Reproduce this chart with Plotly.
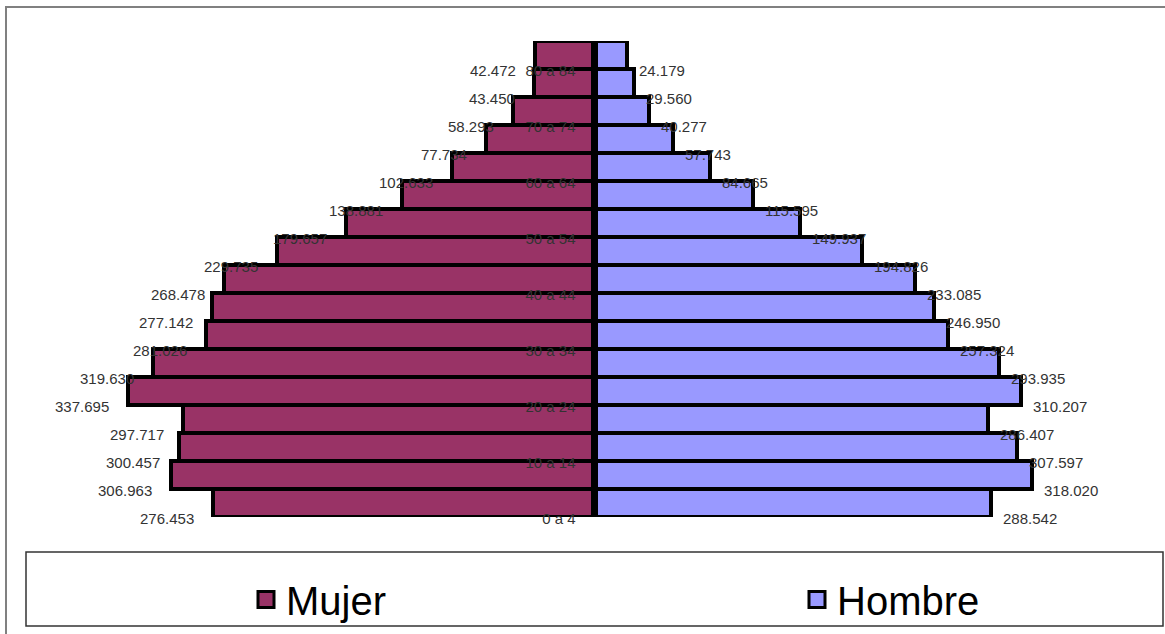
import plotly.graph_objects as go

# ---- data (thousands of people) ----
age_groups = ["0 a 4", "5 a 9", "10 a 14", "15 a 19", "20 a 24", "25 a 29", "30 a 34",
              "35 a 39", "40 a 44", "45 a 49", "50 a 54", "55 a 59", "60 a 64",
              "65 a 69", "70 a 74", "75 a 79", "80 a 84"]
mujer = [276.453, 306.963, 300.457, 297.717, 337.695, 319.63, 281.026, 277.142, 268.478,
         229.735, 179.657, 138.881, 102.633, 77.734, 58.293, 43.450, 42.472]
hombre = [288.542, 318.020, 307.597, 286.407, 310.207, 293.935, 257.324, 246.950, 233.085,
          194.826, 149.937, 115.595, 84.665, 57.743, 40.277, 29.560, 24.179]

MUJER_COLOR = "#993366"
HOMBRE_COLOR = "#9999FF"
FONT = "Liberation Sans, Arial, sans-serif"

W, H = 1165, 634
ML, MR, MT, MB = 20, 20, 41, 117
X_RANGE = [-416.2, 400.2]
plot_w = W - ML - MR
plot_h = H - MT - MB


def fmt(v):
    return f"{v:.3f}"


def px_x(px):
    return (px - ML) / plot_w


def px_y(py):
    return (H - MB - py) / plot_h


fig = go.Figure()

fig.add_trace(go.Bar(
    y=age_groups, x=[-v for v in mujer], orientation="h", name="Mujer",
    marker=dict(color=MUJER_COLOR, line=dict(color="black", width=4)),
    showlegend=False, hoverinfo="skip", cliponaxis=False,
))
fig.add_trace(go.Bar(
    y=age_groups, x=hombre, orientation="h", name="Hombre",
    marker=dict(color=HOMBRE_COLOR, line=dict(color="black", width=4)),
    showlegend=False, hoverinfo="skip", cliponaxis=False,
))

# legend proxies
for name, col in (("Mujer", MUJER_COLOR), ("Hombre", HOMBRE_COLOR)):
    fig.add_trace(go.Scatter(
        x=[None], y=[None], mode="markers", name=name,
        marker=dict(symbol="square", size=16, color=col, line=dict(color="black", width=3)),
    ))

annotations = []
for cat, v in zip(age_groups, mujer):
    annotations.append(dict(x=-v, y=cat, text=fmt(v), showarrow=False, xanchor="right",
                            yanchor="middle", xshift=-17, yshift=-15,
                            font=dict(family=FONT, size=15, color="#333333")))
for cat, v in zip(age_groups, hombre):
    annotations.append(dict(x=v, y=cat, text=fmt(v), showarrow=False, xanchor="left",
                            yanchor="middle", xshift=10, yshift=-15,
                            font=dict(family=FONT, size=15, color="#333333")))

shapes = [
    # outer chart frame
    dict(type="rect", xref="paper", yref="paper", x0=px_x(6), x1=px_x(1175), y0=px_y(7), y1=px_y(645),
         line=dict(color="#808080", width=2), fillcolor="rgba(0,0,0,0)", layer="below"),
    # legend box
    dict(type="rect", xref="paper", yref="paper", x0=px_x(26), x1=px_x(1163), y0=px_y(552), y1=px_y(626),
         line=dict(color="#333333", width=1.5), fillcolor="rgba(0,0,0,0)", layer="below"),
]

zero_pos = -X_RANGE[0] / (X_RANGE[1] - X_RANGE[0])

fig.update_layout(
    width=W, height=H,
    margin=dict(l=ML, r=MR, t=MT, b=MB),
    paper_bgcolor="white", plot_bgcolor="rgba(0,0,0,0)",
    barmode="relative", bargap=0,
    font=dict(family=FONT, color="#333333"),
    xaxis=dict(range=X_RANGE, visible=False, showgrid=False, zeroline=False, fixedrange=True),
    yaxis=dict(type="category", categoryorder="array", categoryarray=age_groups,
               range=[-0.5, len(age_groups) - 0.5],
               anchor="free", position=zero_pos, side="left",
               showline=True, linecolor="black", linewidth=7, layer="above traces",
               showgrid=False, zeroline=False, ticks="",
               tickmode="linear", tick0=0, dtick=2,
               ticklabelstandoff=12, ticklabelshift=16,
               tickfont=dict(family=FONT, size=15, color="#333333")),
    legend=dict(orientation="h", xref="container", yref="container",
                x=246 / W, xanchor="left", y=1 - 567 / H, yanchor="top",
                font=dict(family=FONT, size=40, color="black"),
                entrywidth=506, valign="top", bgcolor="rgba(0,0,0,0)", borderwidth=0,
                itemsizing="trace"),
    annotations=annotations,
    shapes=shapes,
)

fig.write_html("out.html", config={"displayModeBar": False},
               post_script="document.body.style.margin='0';")
